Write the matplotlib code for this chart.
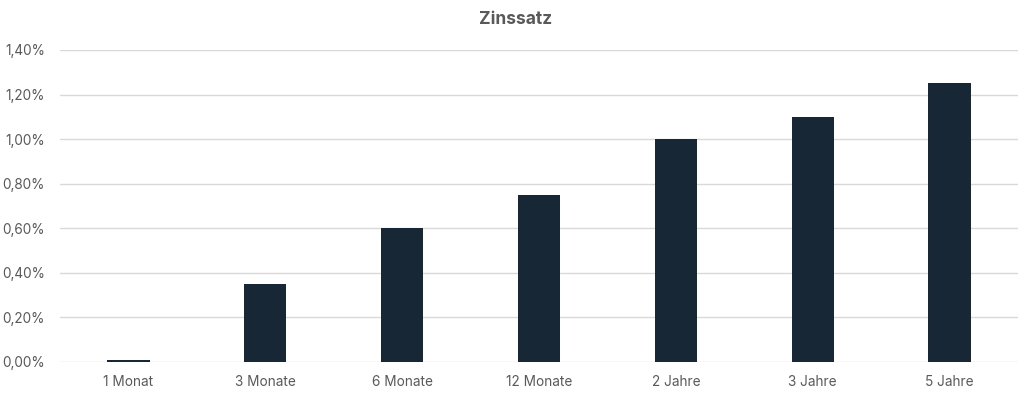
import matplotlib.pyplot as plt
import matplotlib.ticker as mtick

# Data
categories = ['1 Monat', '3 Monate', '6 Monate', '12 Monate', '2 Jahre', '3 Jahre', '5 Jahre']
rates = [0.01, 0.35, 0.60, 0.75, 1.00, 1.10, 1.25]

plt.rcParams['font.family'] = ['Inter', 'DejaVu Sans']

fig = plt.figure(figsize=(10.32, 3.96), dpi=100)
ax = fig.add_axes([60 / 1032, 1 - 362 / 396, 958 / 1032, 312 / 396])

ax.bar(range(len(categories)), rates, width=0.31, color='#182736', zorder=3)

ax.set_xlim(-0.5, len(categories) - 0.5)
ax.set_ylim(0, 1.4)
ax.set_yticks([0, 0.2, 0.4, 0.6, 0.8, 1.0, 1.2, 1.4])
ax.yaxis.set_major_formatter(mtick.FuncFormatter(lambda v, p: f'{v:.2f}%'.replace('.', ',')))
ax.set_xticks(range(len(categories)))
ax.set_xticklabels(categories)

ax.grid(axis='y', color='#d9d9d9', linewidth=1, zorder=0)
for s in ax.spines.values():
    s.set_visible(False)
ax.tick_params(axis='both', length=0, labelsize=9.8, labelcolor='#595959')
ax.tick_params(axis='y', pad=11)
ax.tick_params(axis='x', pad=9)

fig.text(0.5, 1 - 20 / 396, 'Zinssatz', ha='center', va='center', fontsize=12.5,
         fontweight='bold', color='#595959')

fig.savefig('out.png', dpi=100)
